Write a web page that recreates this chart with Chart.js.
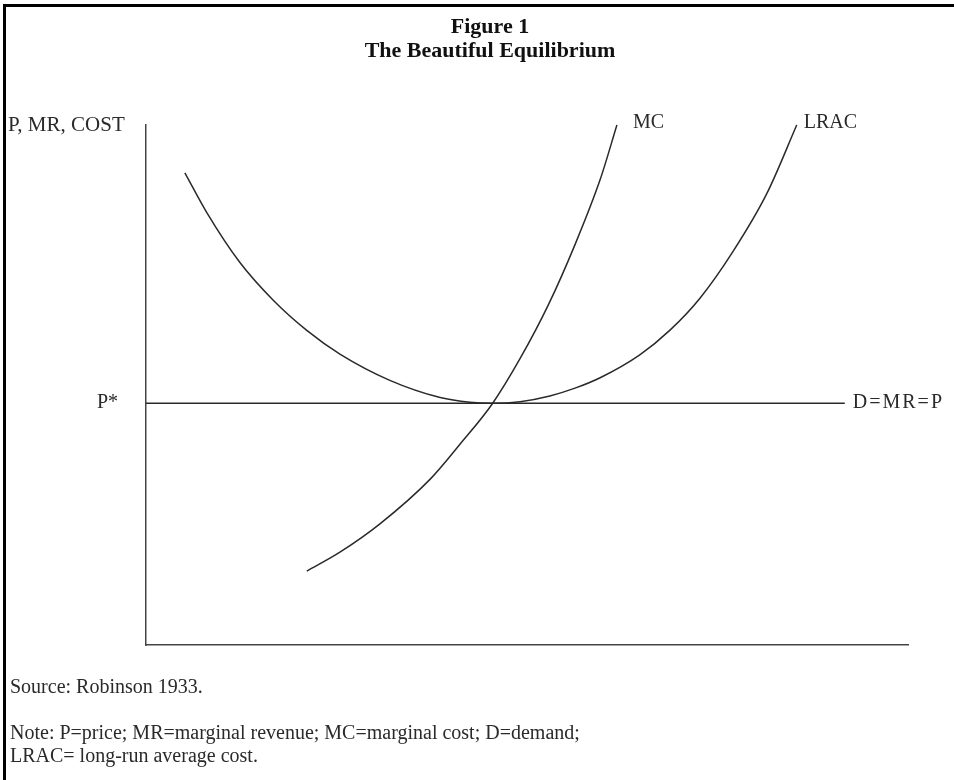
<!DOCTYPE html>
<html>
<head>
<meta charset="utf-8">
<script src="https://cdn.jsdelivr.net/npm/chart.js@4.4.1/dist/chart.umd.min.js"></script>
<style>
  html, body { margin: 0; padding: 0; background: #fff; }
</style>
</head>
<body>
<canvas id="fig" width="954" height="780"></canvas>
<script>
    // quantity (0-100) and cost (0-100)
    var qLRAC    = [5.1, 8.0, 12.3, 16.7, 21.1, 25.5, 32.0, 38.6, 42.5, 45.5, 49.1, 53.0, 56.3, 59.6, 64.8, 68.8, 72.7, 77.0, 81.5, 85.4];
    var costLRAC = [90.8, 83.1, 73.6, 66.3, 60.5, 55.9, 50.9, 47.6, 46.7, 46.5, 46.8, 47.9, 49.4, 51.4, 55.8, 60.6, 66.7, 75.6, 86.9, 100];
    var qMC      = [21.1, 25.5, 30.7, 37.3, 41.2, 45.5, 49.1, 52.8, 56.3, 59.6, 61.8];
    var costMC   = [14.2, 17.9, 23.3, 31.9, 38.6, 46.5, 55.1, 65.4, 77.0, 89.5, 100];
    var qDemand  = [0, 91.7];
    var pStar    = 46.5;

    var yAxisTitle = 'P, MR, COST';
    var pStarLabel = 'P*';
    var demandLabel = 'D=MR=P';
    var titleLines = ['Figure 1', 'The Beautiful Equilibrium'];
    var footLines = [
        'Source: Robinson 1933.',
        'Note: P=price; MR=marginal revenue; MC=marginal cost; D=demand;',
        'LRAC= long-run average cost.'
    ];

    function toPoints(xs, ys) {
        return xs.map(function(x, i) { return { x: x, y: ys[i] }; });
    }

    var SERIF = '"Liberation Serif", "DejaVu Serif", serif';
    var INK = '#2a2a2a';

    var textPlugin = {
        id: 'figureText',
        afterDraw: function(chart) {
            var ctx = chart.ctx;
            var xs = chart.scales.x, ys = chart.scales.y;
            ctx.save();

            // frame: only the top and left edges show
            ctx.strokeStyle = '#000';
            ctx.lineWidth = 3;
            ctx.beginPath();
            ctx.moveTo(4.5, 780);
            ctx.lineTo(4.5, 5.5);
            ctx.lineTo(954, 5.5);
            ctx.stroke();

            ctx.fillStyle = '#111';
            ctx.textAlign = 'center';
            ctx.textBaseline = 'middle';
            ctx.font = 'bold 22px ' + SERIF;
            ctx.fillText(titleLines[0], 490, 27);
            ctx.fillText(titleLines[1], 490, 51);

            ctx.fillStyle = INK;
            ctx.font = '21px ' + SERIF;
            ctx.textAlign = 'left';
            ctx.fillText(yAxisTitle, 8, 125);

            ctx.font = '20px ' + SERIF;
            var py = ys.getPixelForValue(pStar);
            ctx.textAlign = 'right';
            ctx.fillText(pStarLabel, xs.left - 28, py);

            ctx.textAlign = 'left';
            ctx.letterSpacing = '2px';
            ctx.fillText(demandLabel, xs.getPixelForValue(qDemand[1]) + 8, py);
            ctx.letterSpacing = '0px';

            var top = ys.getPixelForValue(100);
            ctx.fillText('MC', xs.getPixelForValue(qMC[qMC.length - 1]) + 16, top - 2);
            ctx.fillText('LRAC', xs.getPixelForValue(qLRAC[qLRAC.length - 1]) + 7, top - 2);

            ctx.fillText(footLines[0], 10, 688);
            ctx.fillText(footLines[1], 10, 734);
            ctx.fillText(footLines[2], 10, 757);
            ctx.restore();
        }
    };

    var lineStyle = {
        borderColor: INK,
        borderWidth: 1.5,
        pointRadius: 0,
        showLine: true,
        fill: false,
        clip: false
    };

    var ctxFig = document.getElementById('fig').getContext('2d');
    var fig = new Chart(ctxFig, {
        type: 'scatter',
        data: {
            datasets: [
                Object.assign({ label: 'LRAC', data: toPoints(qLRAC, costLRAC), cubicInterpolationMode: 'monotone' }, lineStyle),
                Object.assign({ label: 'MC', data: toPoints(qMC, costMC), cubicInterpolationMode: 'monotone' }, lineStyle),
                Object.assign({ label: 'D=MR=P', data: toPoints(qDemand, [pStar, pStar]) }, lineStyle)
            ]
        },
        options: {
            responsive: false,
            devicePixelRatio: 1,
            animation: false,
            layout: { padding: { left: 146, right: 46, top: 125, bottom: 135 } },
            plugins: {
                legend: { display: false },
                tooltip: { enabled: false },
                title: { display: false }
            },
            scales: {
                x: {
                    type: 'linear', min: 0, max: 100,
                    ticks: { display: false },
                    grid: { display: false, drawTicks: false },
                    border: { display: true, color: '#444', width: 1.5 },
                    afterFit: function(s) { s.height = 0; }
                },
                y: {
                    type: 'linear', min: 0, max: 100,
                    ticks: { display: false },
                    grid: { display: false, drawTicks: false },
                    border: { display: true, color: '#444', width: 1.5 },
                    afterFit: function(s) { s.width = 0; }
                }
            }
        },
        plugins: [textPlugin]
    });
</script>
</body>
</html>
